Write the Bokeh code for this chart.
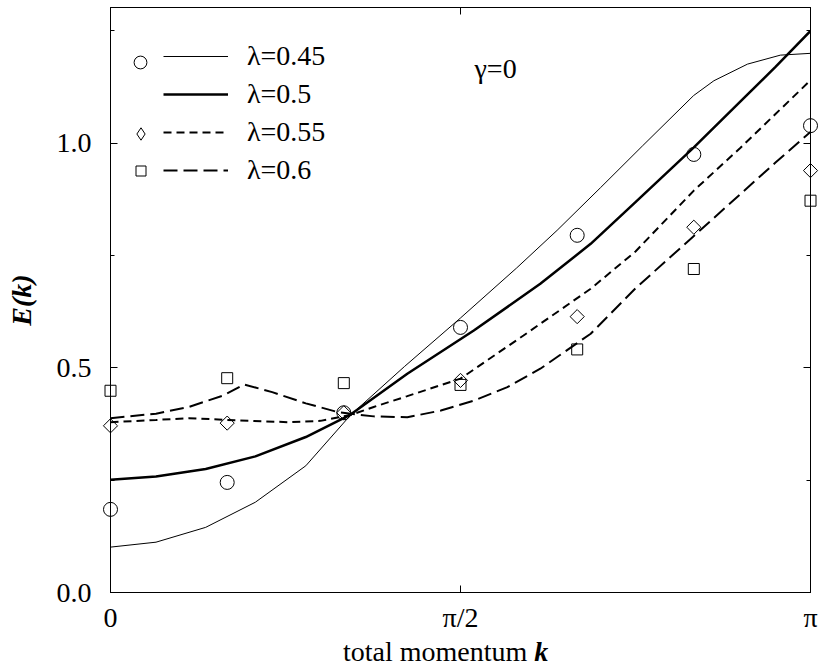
from bokeh.plotting import figure
from bokeh.models import (Range1d, FixedTicker, LinearAxis, Legend, LegendItem,
                          Label, PrintfTickFormatter, CustomLabelingPolicy, Div)
from bokeh.layouts import column
from bokeh.embed import file_html
from bokeh.resources import INLINE

# ---------------- data (k in units of pi) ----------------
k_pts = [0.0, 0.1667, 0.3333, 0.5, 0.6667, 0.8333, 1.0]
E_pts_045 = [0.185, 0.245, 0.400, 0.590, 0.795, 0.975, 1.039]
E_pts_055 = [0.371, 0.377, 0.400, 0.472, 0.614, 0.813, 0.939]
E_pts_060 = [0.449, 0.477, 0.466, 0.462, 0.541, 0.720, 0.872]

k_045 = [0.0, 0.065, 0.136, 0.207, 0.279, 0.343, 0.42, 0.5, 0.58, 0.638, 0.7, 0.76, 0.833, 0.862, 0.91, 0.957, 1.0]
E_045 = [0.101, 0.112, 0.145, 0.201, 0.282, 0.395, 0.503, 0.611, 0.722, 0.806, 0.901, 0.994, 1.106, 1.139, 1.176, 1.196, 1.200]

k_050 = [0.0, 0.065, 0.136, 0.207, 0.279, 0.343, 0.424, 0.519, 0.614, 0.686, 0.75, 0.833, 0.9, 0.95, 1.0]
E_050 = [0.251, 0.258, 0.275, 0.303, 0.346, 0.396, 0.487, 0.583, 0.687, 0.776, 0.869, 0.990, 1.093, 1.170, 1.250]

k_055 = [0.0, 0.065, 0.112, 0.184, 0.255, 0.3, 0.343, 0.376, 0.424, 0.5, 0.59, 0.686, 0.75, 0.833, 0.9, 0.95, 1.0]
E_055 = [0.379, 0.384, 0.388, 0.383, 0.379, 0.382, 0.395, 0.413, 0.437, 0.476, 0.572, 0.676, 0.759, 0.894, 0.990, 1.065, 1.140]

k_060 = [0.0, 0.065, 0.112, 0.16, 0.191, 0.231, 0.279, 0.326, 0.376, 0.424, 0.472, 0.519, 0.567, 0.614, 0.686, 0.75, 0.833, 0.9, 0.95, 1.0]
E_060 = [0.388, 0.398, 0.413, 0.438, 0.463, 0.446, 0.421, 0.401, 0.392, 0.390, 0.405, 0.427, 0.457, 0.498, 0.576, 0.677, 0.793, 0.887, 0.957, 1.025]

legend_labels = ["λ=0.45", "λ=0.5", "λ=0.55", "λ=0.6"]

x_ticks = [0, 0.5, 1]
x_tick_labels = {0: "0", 0.5: "π/2", 1: "π"}
y_ticks = [0.0, 0.5, 1.0]
y_minor = [0.25, 0.75, 1.25]

FONT = "Liberation Serif"
FS = "28px"

# ---------------- figure ----------------
W, H_TOTAL = 819, 668
DIV_H = 32
H = H_TOTAL - DIV_H
FL, FR, FT = 110, 9, 7
FB = H - 592
p = figure(width=W, height=H, output_backend="svg", toolbar_location=None,
           x_range=Range1d(0, 1), y_range=Range1d(0, 1.302),
           min_border_left=FL, min_border_right=FR, min_border_top=FT, min_border_bottom=FB)
p.grid.visible = False
p.outline_line_color = "black"
p.background_fill_color = "white"
p.border_fill_color = "white"

xt = FixedTicker(ticks=x_ticks, minor_ticks=[])
yt = FixedTicker(ticks=y_ticks, minor_ticks=y_minor)

no_labels = CustomLabelingPolicy(code="""
for (let i = 0; i < indices.size; i++) { indices.unset(i) }
return indices
""")

def style_axis(ax, show_labels):
    ax.axis_line_color = "black"
    ax.axis_line_width = 1
    ax.major_tick_line_color = "black"
    ax.minor_tick_line_color = "black"
    ax.major_tick_in = 7
    ax.major_tick_out = 0
    ax.minor_tick_in = 4
    ax.minor_tick_out = 0
    ax.major_label_text_font = FONT
    ax.major_label_text_color = "black"
    if show_labels:
        ax.major_label_text_font_size = FS
    else:
        ax.major_label_text_font_size = "1px"
        ax.major_label_standoff = 0
        ax.major_label_policy = no_labels

xb = p.xaxis[0]
xb.ticker = xt
xb.major_label_overrides = x_tick_labels
style_axis(xb, True)
xb.major_label_standoff = 9

yl = p.yaxis[0]
yl.ticker = yt
yl.formatter = PrintfTickFormatter(format="%.1f")
style_axis(yl, True)
yl.major_label_standoff = 19
yl.axis_label = "E(k)"
yl.axis_label_text_font = FONT
yl.axis_label_text_font_size = FS
yl.axis_label_text_font_style = "bold italic"
yl.axis_label_text_color = "black"
yl.axis_label_standoff = 17

yr = LinearAxis(ticker=yt)
style_axis(yr, False)
p.add_layout(yr, "right")
xa = LinearAxis(ticker=xt)
style_axis(xa, False)
p.add_layout(xa, "above")

# ---------------- curves ----------------
r045 = p.line(k_045, E_045, line_color="black", line_width=1)
r050 = p.line(k_050, E_050, line_color="black", line_width=2.5)
r055 = p.line(k_055, E_055, line_color="black", line_width=2, line_dash="8 5")
r060 = p.line(k_060, E_060, line_color="black", line_width=2, line_dash="14 6")

s045 = p.scatter(k_pts, E_pts_045, marker="circle", size=14, fill_color=None,
                 line_color="black", line_width=1, level="overlay")
s055 = p.scatter(k_pts, E_pts_055, marker="square", angle=0.7854, size=10, fill_color=None,
                 line_color="black", line_width=1, level="overlay")
s060 = p.scatter(k_pts, E_pts_060, marker="square", size=11, fill_color=None,
                 line_color="black", line_width=1, level="overlay")
# legend-only twin of the diamond series (not drawn in the plot)
s055_leg = p.scatter(k_pts, E_pts_055, marker="diamond", size=12, fill_color=None,
                     line_color="black", line_width=1, visible=False)

# ---------------- legends ----------------
def marker_legend(renderer, cx, cy, box):
    left = cx - box / 2
    top = cy - box / 2
    frame_bottom = 592
    lg = Legend(items=[LegendItem(label="", renderers=[renderer])],
                location=(left - FL, frame_bottom - top - box),
                glyph_width=box, glyph_height=box, label_standoff=0,
                padding=0, margin=0, spacing=0, border_line_color=None,
                background_fill_alpha=0, label_text_font_size="1px",
                label_width=0, label_height=box)
    p.add_layout(lg)

marker_legend(s045, 140, 62, 32)
marker_legend(s055_leg, 140, 133, 31)
marker_legend(s060, 140, 170, 25)

row_h, gap = 30, 6
n_rows = 4
leg_h = n_rows * row_h + (n_rows - 1) * gap
top_b = 63 - row_h / 2
legB = Legend(items=[LegendItem(label=lab, renderers=[r]) for lab, r in
                     zip(legend_labels, [r045, r050, r055, r060])],
              location=(163 - FL, 592 - top_b - leg_h),
              glyph_width=65, glyph_height=row_h, label_height=row_h, spacing=gap,
              label_standoff=19, padding=0, margin=0, border_line_color=None,
              background_fill_alpha=0, label_text_font=FONT, label_text_font_size=FS,
              label_text_color="black")
p.add_layout(legB)

# ---------------- texts ----------------
p.add_layout(Label(x=0.52, y=1.166, text="γ=0", text_font=FONT, text_font_size=FS,
                   text_color="black", text_baseline="alphabetic", level="overlay"))

xlabel = Div(
    text=("<div style=\"font-family:'Liberation Serif',serif;font-size:28px;color:black;"
          "line-height:32px;white-space:nowrap;padding-left:343px;\">"
          "total momentum <b><i>k</i></b></div>"),
    width=W, height=DIV_H, margin=0)

layout = column(p, xlabel, spacing=0)
open("out.html", "w").write(file_html(layout, INLINE))
